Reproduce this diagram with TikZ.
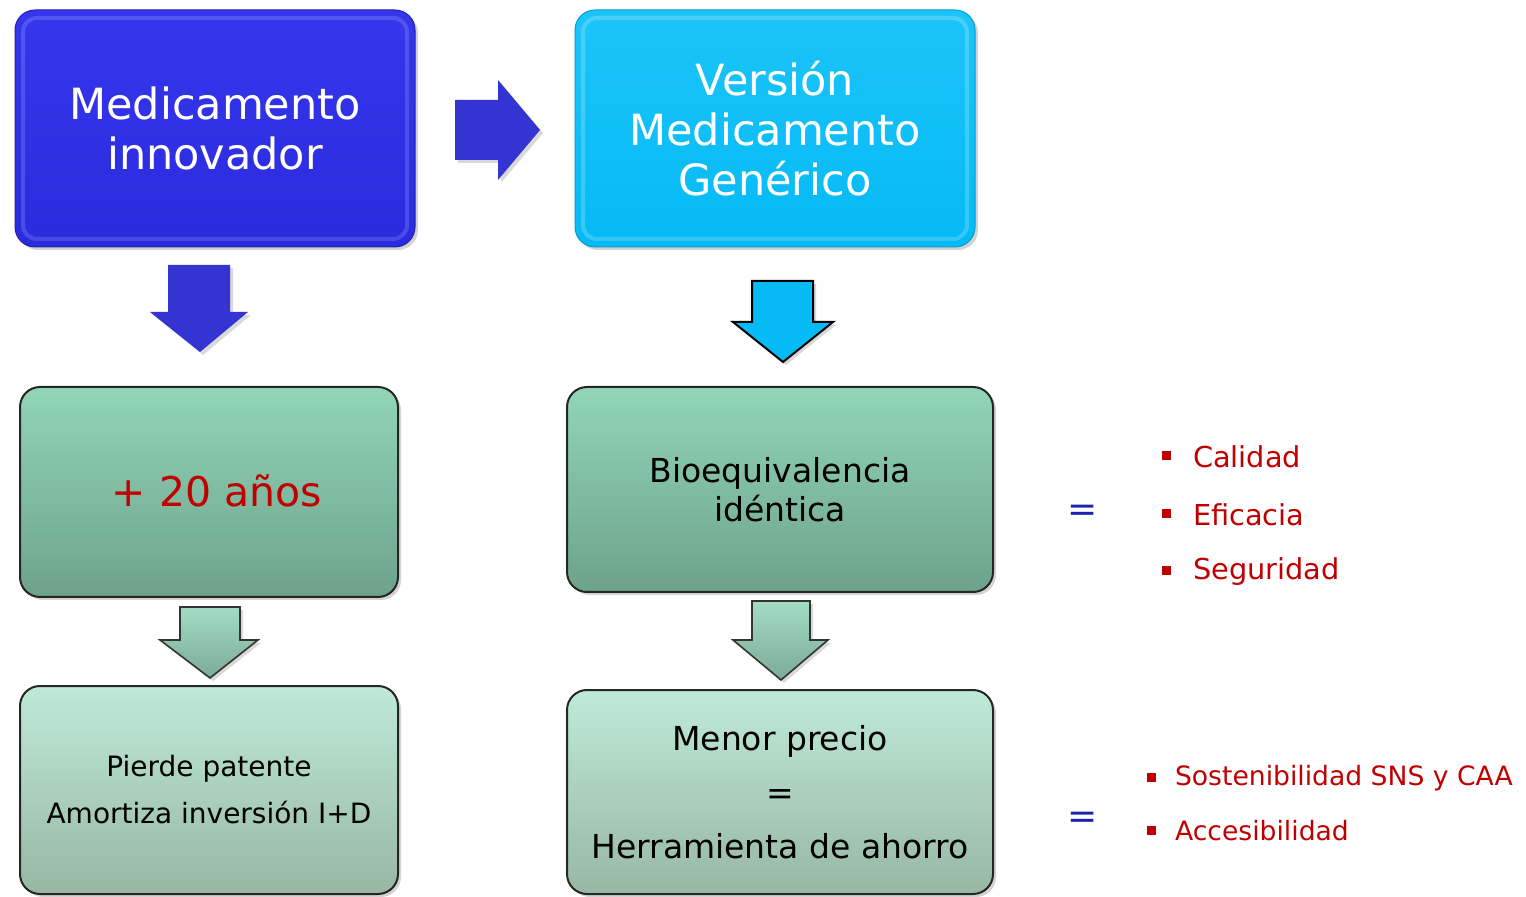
\documentclass[tikz,border=0pt]{standalone}
\usepackage{fontspec}
\setmainfont{DejaVu Sans}
\usetikzlibrary{shadows}
\definecolor{dblue}{HTML}{2A2ADF}
\definecolor{dbluetop}{HTML}{3636EC}
\definecolor{lblue}{HTML}{05BAF5}
\definecolor{lbluetop}{HTML}{1CC4F9}
\definecolor{arrblue}{HTML}{3434D2}
\definecolor{gtop}{HTML}{92D5B9}
\definecolor{gbot}{HTML}{6DA28B}
\definecolor{ltop}{HTML}{BFEAD8}
\definecolor{lbot}{HTML}{97B7A3}
\definecolor{ared}{HTML}{C00000}
\definecolor{eqblue}{HTML}{2020B0}
\begin{document}
\begin{tikzpicture}[x=0.5pt,y=-0.5pt,
  boxbase/.style={rounded corners=10pt, inner sep=0pt, align=center,
    drop shadow={shadow xshift=1.5pt, shadow yshift=-1.5pt, opacity=0.35}},
  bluebox/.style={boxbase, top color=dbluetop, bottom color=dblue, draw=dblue!80!black, line width=0.5pt, text=white},
  cyanbox/.style={boxbase, top color=lbluetop, bottom color=lblue, draw=lblue!85!black, line width=0.5pt, text=white},
  greenbox/.style={boxbase, top color=gtop, bottom color=gbot, draw=black!85, line width=1pt},
  lightbox/.style={boxbase, top color=ltop, bottom color=lbot, draw=black!85, line width=1pt},
  bigtxt/.style={font=\fontsize{21.5}{25}\selectfont},
  midtxt/.style={font=\fontsize{16.5}{19.5}\selectfont},
  bsq/.style={fill=ared, minimum size=4.5pt, inner sep=0pt},
  btxt/.style={text=ared, anchor=west, font=\fontsize{14.4}{17}\selectfont},
  btxtb/.style={text=ared, anchor=west, font=\fontsize{13.3}{16}\selectfont},
  eqtxt/.style={text=eqblue, font=\fontsize{18}{20}\selectfont},
  blockarrow/.style={drop shadow={shadow xshift=1.5pt, shadow yshift=-1.5pt, opacity=0.3}}
]
\useasboundingbox (0,0) rectangle (1526,897);

% boxes
\node[bluebox, minimum width=200pt, minimum height=118.5pt, bigtxt] (innov) at (215,128.5) {Medicamento\\innovador};
\node[cyanbox, minimum width=200pt, minimum height=118.5pt, bigtxt] (gen) at (775,128.5) {Versión\\Medicamento\\Genérico};
\node[greenbox, minimum width=189pt, minimum height=105pt] (anos) at (209,492) {};
\node[text=ared, font=\fontsize{20.5}{24}\selectfont] (anost) at (217,491) {+ 20 años};
\node[greenbox, minimum width=213pt, minimum height=102.5pt, midtxt] (bio) at (780,489.5) {Bioequivalencia\\idéntica};
\node[lightbox, minimum width=189pt, minimum height=104pt, font=\fontsize{14}{23.5}\selectfont] (pat) at (209,790) {Pierde patente\\Amortiza inversión I+D};
\node[lightbox, minimum width=213pt, minimum height=102pt, font=\fontsize{16.5}{27}\selectfont] (prec) at (780,792) {Menor precio\\=\\Herramienta de ahorro};

% bevel highlights on the blue boxes
\draw[white, opacity=0.15, line width=2pt, rounded corners=7pt] (23,18) rectangle (407,239);
\draw[white, opacity=0.2, line width=2pt, rounded corners=7pt] (583,18) rectangle (967,239);

% block arrows
\fill[arrblue, blockarrow] (455,100) -- (498,100) -- (498,80) -- (540,130) -- (498,180) -- (498,160) -- (455,160) -- cycle;
\fill[arrblue, blockarrow] (168,265) -- (230,265) -- (230,312) -- (248,312) -- (200,352) -- (150,312) -- (168,312) -- cycle;
\filldraw[fill=lblue, draw=black, line width=1pt, blockarrow] (752,281) -- (813,281) -- (813,322) -- (833,322) -- (783,362) -- (733,322) -- (752,322) -- cycle;
\filldraw[top color=gtop!85!white, bottom color=gbot!90!white, draw=black!80, line width=0.8pt, blockarrow] (180,607) -- (240,607) -- (240,640) -- (258,640) -- (210,678) -- (160,640) -- (180,640) -- cycle;
\filldraw[top color=gtop!85!white, bottom color=gbot!90!white, draw=black!80, line width=0.8pt, blockarrow] (752,601) -- (810,601) -- (810,640) -- (828,640) -- (781,680) -- (733,640) -- (752,640) -- cycle;

% equals signs
\node[eqtxt] (eq1) at (1083,513) {=};
\node[eqtxt] (eq2) at (1083,820) {=};

% bullets
\node[bsq] (s1) at (1166,456) {};
\node[btxt] (t1) at (1186,457) {Calidad};
\node[bsq] (s2) at (1166,514) {};
\node[btxt] (t2) at (1186,515) {Eficacia};
\node[bsq] (s3) at (1166,571) {};
\node[btxt] (t3) at (1186,572) {Seguridad};
\node[bsq] (s4) at (1151,777) {};
\node[btxtb] (t4) at (1168,778) {Sostenibilidad SNS y CAA};
\node[bsq] (s5) at (1151,830) {};
\node[btxtb] (t5) at (1168,831) {Accesibilidad};
\end{tikzpicture}
\end{document}
